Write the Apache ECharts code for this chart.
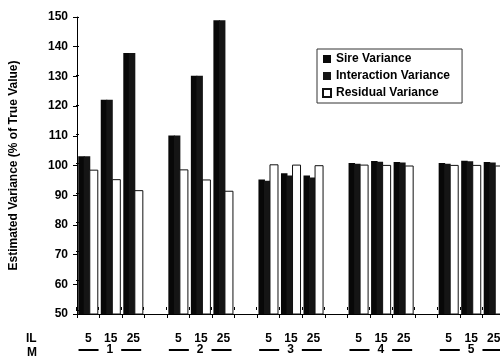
<!DOCTYPE html>
<html><head><meta charset="utf-8">
<script src="https://cdn.jsdelivr.net/npm/echarts@6/dist/echarts.min.js"></script>
<style>html,body{margin:0;padding:0;overflow:hidden;background:#fff}#c{width:506px;height:356px}</style>
</head><body><div id="c"></div>
<script>
const mGroups = ['1', '2', '3', '4', '5'];
const ilLevels = ['5', '15', '25'];
const yTicks = { min: 50, max: 150, interval: 10 };
// values per (M, IL) in reading order
const sire =        [103.1, 122.1, 137.9, 110.1, 130.2, 148.9, 95.3, 97.4, 96.6, 100.8, 101.5, 101.2, 100.8, 101.6, 101.2];
const interaction = [103.1, 122.1, 137.9, 110.1, 130.2, 148.9, 94.9, 96.6, 96.0, 100.6, 101.3, 101.0, 100.6, 101.4, 101.0];
const residual =    [98.6, 95.4, 91.7, 98.7, 95.3, 91.5, 100.4, 100.3, 100.1, 100.3, 100.2, 100.0, 100.2, 100.2, 100.0];

const FONT = '"Liberation Sans", Arial, sans-serif';
// build category keys (with spacer between M groups)
const cats = [];
const mapData = arr => { const out = []; let k = 0;
  mGroups.forEach((m, gi) => { ilLevels.forEach(() => { out.push(arr[k++]); }); if (gi < mGroups.length - 1) out.push('-'); });
  return out; };
mGroups.forEach((m, gi) => {
  ilLevels.forEach(il => cats.push(m + '|' + il));
  if (gi < mGroups.length - 1) cats.push('gap' + gi);
});

const gridRect = { left: 76, top: 17, right: 1, bottom: 42 };
const chart = echarts.init(document.getElementById('c'), null, { renderer: 'canvas' });
chart.setOption({
  animation: false,
  backgroundColor: '#fff',
  textStyle: { fontFamily: FONT },
  grid: [Object.assign({}, gridRect), Object.assign({}, gridRect)],
  legend: {
    orient: 'vertical', left: 317, top: 49,
    padding: [4, 12, 4, 5], itemGap: 5, itemWidth: 8, itemHeight: 8,
    borderColor: '#333', borderWidth: 1, icon: 'rect',
    textStyle: { fontFamily: FONT, fontWeight: 'bold', fontSize: 12, color: '#000' },
    data: ['Sire Variance', 'Interaction Variance', 'Residual Variance']
  },
  xAxis: [
    { type: 'category', gridIndex: 0, data: cats, boundaryGap: true,
      axisLine: { lineStyle: { color: '#000', width: 1 } },
      axisTick: { show: true, interval: 0, length: 4, lineStyle: { color: '#000' } },
      axisLabel: { interval: 0, margin: 19, color: '#000', fontWeight: 'bold', fontSize: 12, fontFamily: FONT,
        formatter: v => v.indexOf('|') >= 0 ? v.split('|')[1] : '' } },
    { type: 'category', gridIndex: 1, data: cats, boundaryGap: true, position: 'bottom',
      axisLine: { show: false },
      axisTick: { show: true, inside: true, interval: 0, length: 3, lineStyle: { color: '#000' } },
      axisLabel: { interval: 0, margin: 33, color: '#000', fontWeight: 'bold', fontSize: 12, fontFamily: FONT,
        formatter: v => { if (v.indexOf('|') < 0) return ''; const p = v.split('|');
          return p[1] === ilLevels[1] ? '{d|}{n|' + p[0] + '}{d|}' : ''; },
        rich: { d: { width: 20, height: 2, backgroundColor: '#000', verticalAlign: 'middle' },
                n: { padding: [0, 8, 0, 8], lineHeight: 14, verticalAlign: 'middle', fontWeight: 'bold', fontSize: 12, fontFamily: FONT, color: '#000' } } } }
  ],
  yAxis: [
    { type: 'value', gridIndex: 0, min: yTicks.min, max: yTicks.max, interval: yTicks.interval,
      name: 'Estimated Variance (% of True Value)', nameLocation: 'middle', nameGap: 57,
      nameTextStyle: { fontFamily: FONT, fontWeight: 'bold', fontSize: 12, color: '#000' },
      splitLine: { show: false },
      axisLine: { show: true, lineStyle: { color: '#000', width: 1 } },
      axisTick: { show: true, length: 4, lineStyle: { color: '#000' } },
      axisLabel: { margin: 9, color: '#000', fontWeight: 'bold', fontSize: 12, fontFamily: FONT } },
    { type: 'value', gridIndex: 1, min: yTicks.min, max: yTicks.max, interval: yTicks.interval,
      splitLine: { show: false }, axisLine: { show: false },
      axisTick: { show: true, inside: true, length: 3, lineStyle: { color: '#000' } },
      axisLabel: { show: false } }
  ],
  series: [
    { name: 'Sire Variance', type: 'bar', xAxisIndex: 0, yAxisIndex: 0, barWidth: 6.5, barGap: '-15%',
      itemStyle: { color: '#080808' }, data: mapData(sire) },
    { name: 'Interaction Variance', type: 'bar', xAxisIndex: 0, yAxisIndex: 0, barWidth: 6.5, barGap: '-15%',
      itemStyle: { color: '#151515' }, data: mapData(interaction) },
    { name: 'Residual Variance', type: 'bar', xAxisIndex: 0, yAxisIndex: 0, barWidth: 9, barGap: '-15%',
      itemStyle: { color: '#fff', borderColor: '#111', borderWidth: 1 }, data: mapData(residual) }
  ],
  graphic: [
    { type: 'text', left: 26, top: 333, style: { text: 'IL', font: 'bold 12px ' + FONT, fill: '#000' } },
    { type: 'text', left: 27, top: 347, style: { text: 'M', font: 'bold 12px ' + FONT, fill: '#000' } }
  ]
});
</script></body></html>
